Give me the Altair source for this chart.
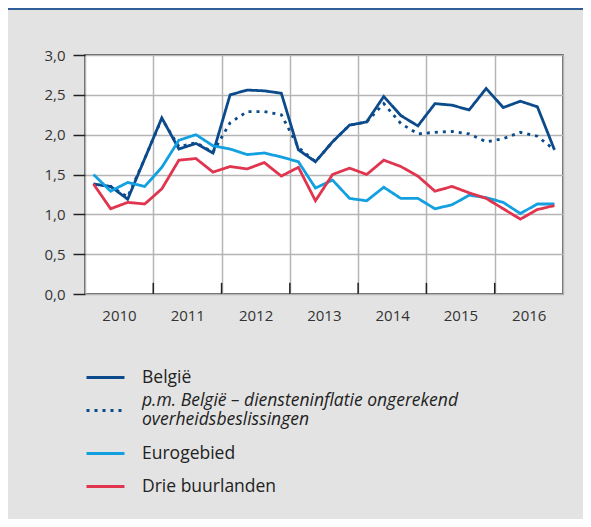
import altair as alt
import pandas as pd

# ---- data (quarterly, 2010Q1 - 2016Q4) ----
years = [2010, 2011, 2012, 2013, 2014, 2015, 2016]
quarters = [1, 2, 3, 4]

belgie = [1.38, 1.35, 1.19, 1.70, 2.21, 1.82, 1.89, 1.77,
          2.50, 2.56, 2.55, 2.52, 1.81, 1.66, 1.91, 2.12,
          2.16, 2.48, 2.24, 2.11, 2.39, 2.37, 2.31, 2.58,
          2.34, 2.42, 2.35, 1.81]
pm_belgie = [1.38, 1.35, 1.22, 1.70, 2.20, 1.85, 1.90, 1.78,
             2.15, 2.29, 2.29, 2.25, 1.84, 1.66, 1.91, 2.12,
             2.16, 2.39, 2.14, 2.01, 2.03, 2.04, 2.01, 1.91,
             1.95, 2.03, 1.98, 1.81]
eurogebied = [1.50, 1.29, 1.40, 1.35, 1.59, 1.93, 2.00, 1.86,
              1.82, 1.75, 1.77, 1.72, 1.66, 1.33, 1.43, 1.20,
              1.17, 1.34, 1.20, 1.20, 1.07, 1.12, 1.24, 1.21,
              1.15, 1.01, 1.13, 1.13]
buurlanden = [1.38, 1.07, 1.15, 1.13, 1.32, 1.68, 1.70, 1.53,
              1.60, 1.57, 1.65, 1.48, 1.59, 1.17, 1.50, 1.58,
              1.50, 1.68, 1.60, 1.48, 1.29, 1.35, 1.27, 1.20,
              1.07, 0.94, 1.06, 1.11]

series_names = ["België",
                "p.m. België – diensteninflatie ongerekend overheidsbeslissingen",
                "Eurogebied",
                "Drie buurlanden"]
series_values = [belgie, pm_belgie, eurogebied, buurlanden]
series_colors = ["#0b4a8b", "#0b4a8b", "#12a0e0", "#e0344f"]
series_dash = [[1, 0], [3, 5], [1, 0], [1, 0]]

y_ticks = [0, 0.5, 1.0, 1.5, 2.0, 2.5, 3.0]
year_bounds = [2010, 2011, 2012, 2013, 2014, 2015, 2016, 2017]

rows = []
for name, vals in zip(series_names, series_values):
    i = 0
    for yr in years:
        for q in quarters:
            rows.append({"series": name, "t": yr + (q - 0.5) / 4, "v": vals[i]})
            i += 1
df = pd.DataFrame(rows)
bounds_df = pd.DataFrame({"b": year_bounds[1:-1]})

FONT = "Open Sans"
IS_PM = "indexof(datum.label, 'p.m.') == 0"


def make_legend():
    return alt.Legend(
        title=None, orient="none", legendX=0, legendY=302,
        direction="vertical", symbolType="stroke", symbolSize=1444,
        symbolStrokeWidth=3, labelFontSize=17.5, labelFont=FONT,
        labelColor="#222", labelOffset=16, rowPadding=4,
        labelLimit=600, padding=0,
        labelExpr=IS_PM + " ? ['p.m. België – diensteninflatie ongerekend', 'overheidsbeslissingen'] : datum.label",
        labelFontStyle=alt.ExprRef(IS_PM + " ? 'italic' : 'normal'"),
        labelBaseline=alt.ExprRef(IS_PM + " ? 'line-bottom' : 'middle'"),
    )


def x_axis():
    return alt.Axis(values=year_bounds, grid=True, ticks=False, domain=False,
                    labelOffset=34, labelFlush=False, labelOverlap=False,
                    labelExpr="datum.value == 2017 ? '' : datum.label",
                    format="d", labelPadding=14, title=None)


def y_axis():
    return alt.Axis(values=y_ticks, grid=True, ticks=True, tickSize=12,
                    domain=False, labelPadding=8, labelOverlap=False,
                    labelFlush=False, title=None,
                    labelExpr="replace(format(datum.value, '.1f'), '.', ',')")


x_scale = alt.Scale(domain=[2010, 2017], nice=False, zero=False)
y_scale = alt.Scale(domain=[0, 3], nice=False)

lines = alt.Chart(df).mark_line(strokeWidth=2.8, clip=True).encode(
    x=alt.X("t:Q", scale=x_scale, axis=x_axis()),
    y=alt.Y("v:Q", scale=y_scale, axis=y_axis()),
    color=alt.Color("series:N",
                    scale=alt.Scale(domain=series_names, range=series_colors),
                    legend=make_legend()),
    strokeDash=alt.StrokeDash("series:N",
                              scale=alt.Scale(domain=series_names, range=series_dash),
                              legend=make_legend()),
    order=alt.Order("t:Q"),
    detail="series:N",
)

inner_ticks = alt.Chart(bounds_df).mark_rule(color="#222", strokeWidth=1.5).encode(
    x=alt.X("b:Q", scale=x_scale, axis=x_axis()),
    y=alt.YDatum(0, scale=y_scale, axis=y_axis()),
    y2=alt.Y2Datum(0.14),
)

top_line = alt.Chart(bounds_df).mark_rule(color="#2f5f96", strokeWidth=2).encode(
    x=alt.value(-80), x2=alt.value(520), y=alt.value(-46)
)

chart = alt.layer(lines, inner_ticks, top_line).properties(
    width=478, height=239,
    autosize=alt.AutoSizeParams(type="none"),
    padding={"left": 77, "top": 47, "right": 20, "bottom": 225},
    background="#e3e3e3",
).configure_view(
    fill="white", stroke="#333", strokeWidth=1.5
).configure_axis(
    gridColor="#b5b5b5", gridWidth=1.5, tickColor="#222", tickWidth=1.5,
    labelFont=FONT, labelFontSize=15, labelColor="#333"
)

chart.save("out.html", embed_options={"renderer": "svg", "actions": False})
